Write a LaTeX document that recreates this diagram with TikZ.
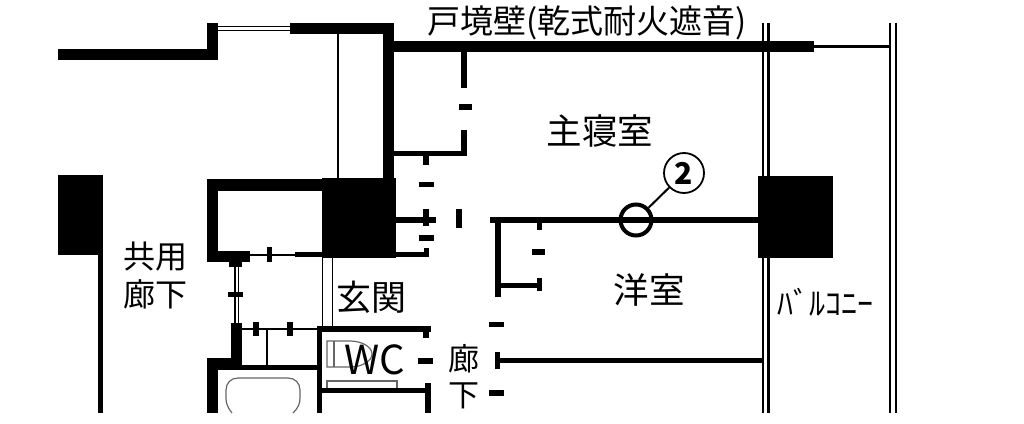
\documentclass[tikz,border=0pt]{standalone}
\usepackage{fontspec}
\setmainfont{Noto Sans CJK JP}
\tikzset{
	wall/.style={fill=black},
	thinline/.style={draw=black, line width=2.4pt},
	fixture/.style={draw=black!60, line width=1.2pt},
	roomlabel/.style={inner sep=0pt, align=center, font=\fontsize{31}{38}\selectfont},
}

\begin{document}
\begin{tikzpicture}[x=1pt, y=-1pt]
	\useasboundingbox (0, 0) rectangle (1024, 423);

	% Outer walls at the top
	\fill[wall] (58, 49) rectangle (218, 60);
	\fill[wall] (207, 23) rectangle (218, 60);
	\fill[wall] (290, 23) rectangle (394, 34);
	\fill[wall] (383, 23) rectangle (394, 180);
	\fill[wall] (394, 41) rectangle (814, 52); % Party wall

	% Window and thin lines
	\draw[black, line width=1.5pt] (218, 26.5) -- (290, 26.5);
	\draw[black, line width=1.5pt] (218, 30.5) -- (290, 30.5);
	\draw[black, line width=1.6pt] (338, 34) -- (338, 178);
	\draw[thinline, line width=2.8pt] (814, 46.5) -- (889, 46.5);

	% Corridor side
	\fill[wall] (58, 175) rectangle (103, 255);
	\fill[wall] (98, 255) rectangle (103, 413);

	% Shaft and entrance
	\fill[wall] (207, 179) rectangle (322, 191);
	\fill[wall] (322, 178) rectangle (396, 258);
	\fill[wall] (207, 179) rectangle (218, 262);
	\fill[wall] (207, 251) rectangle (250, 262);
	\fill[wall] (229, 255) rectangle (242, 267);
	\draw[thinline] (250, 255) -- (296, 255);
	\fill[wall] (267, 247) rectangle (272, 262);
	\fill[wall] (295, 252) rectangle (322, 257);
	\draw[thinline, line width=1.8pt] (322.5, 258) -- (322.5, 326);
	\draw[thinline, line width=1.8pt] (332.5, 258) -- (332.5, 326);
	\draw[thinline, line width=1.5pt] (235, 267) -- (235, 323);
	\draw[thinline, line width=1.5pt] (238.5, 267) -- (238.5, 323);
	\fill[wall] (228, 292) rectangle (243, 297);

	% Washroom
	\fill[wall] (231, 323) rectangle (242, 368);
	\draw[thinline] (242, 329) -- (318, 329);
	\fill[wall] (253, 322) rectangle (259, 336);
	\fill[wall] (287, 322) rectangle (293, 336);
	\draw[thinline] (267, 329) -- (267, 365);
	\fill[wall] (207, 358) rectangle (242, 370);
	\fill[wall] (207, 358) rectangle (218, 413);
	\fill[wall] (235, 365) rectangle (322, 370);
	\fill[wall] (317, 326) rectangle (322, 413);
	\fill[wall] (317, 326) rectangle (431, 332);
	\fill[wall] (423, 332) rectangle (429, 338);
	\fill[wall] (322, 388) rectangle (430, 393);
	\fill[wall] (425, 383) rectangle (431, 413);

	% Fixtures
	\draw[fixture] (232, 413) .. controls (228, 408) and (226, 404) .. (226, 398) -- (226, 390) .. controls (226, 383) and (231, 378) .. (238, 378) -- (288, 378) .. controls (295, 378) and (300, 383) .. (300, 390) -- (300, 398) .. controls (300, 404) and (298, 408) .. (293, 413);
	\draw[fixture] (327, 341) -- (350, 341) .. controls (362, 341) and (372, 347) .. (372, 354) .. controls (372, 361) and (362, 367) .. (350, 367) -- (327, 367) -- cycle;
	\draw[fixture] (334, 341) -- (334, 367);
	\draw[fixture] (327, 388) -- (327, 381) -- (397, 381) -- (397, 388);

	% Door marks around the corridor
	\fill[wall] (419, 182) rectangle (434, 187);
	\fill[wall] (396, 217) rectangle (436, 223);
	\fill[wall] (423, 209) rectangle (429, 226);
	\fill[wall] (419, 235) rectangle (434, 241);
	\fill[wall] (396, 252) rectangle (429, 257);
	\fill[wall] (424, 248) rectangle (429, 257);
	\fill[wall] (456, 209) rectangle (462, 228);
	\fill[wall] (418, 358) rectangle (433, 364);
	\fill[wall] (489, 322) rectangle (504, 327);
	\fill[wall] (489, 390) rectangle (504, 396);

	% Closet of the main bedroom
	\fill[wall] (461, 52) rectangle (467, 88);
	\fill[wall] (459, 104) rectangle (472, 110);
	\fill[wall] (461, 130) rectangle (467, 156);
	\fill[wall] (394, 151) rectangle (467, 156);
	\fill[wall] (423, 156) rectangle (429, 165);

	% Partition between the bedrooms
	\fill[wall] (490, 217) rectangle (760, 223);
	\fill[wall] (495, 217) rectangle (501, 297);
	\fill[wall] (495, 283) rectangle (541, 288);
	\fill[wall] (537, 223) rectangle (542, 230);
	\fill[wall] (532, 249) rectangle (545, 255);
	\fill[wall] (537, 278) rectangle (542, 291);
	\fill[wall] (495, 352) rectangle (500, 369);
	\fill[wall] (495, 358) rectangle (762, 363);

	% Balcony
	\draw[thinline] (763, 23) -- (763, 413);
	\draw[thinline] (768.5, 23) -- (768.5, 413);
	\draw[thinline] (890, 23) -- (890, 413);
	\draw[thinline] (896, 23) -- (896, 413);
	\fill[wall] (758, 176) rectangle (833, 258);

	% Callout
	\node[circle, draw=black, line width=4pt, minimum size=31pt, inner sep=0pt] (mark) at (636, 220) {};
	\node[circle, draw=black, line width=1.8pt, minimum size=40pt, inner sep=0pt, font=\fontsize{30}{30}\selectfont\bfseries] (callout) at (684, 173) {2};
	\draw[black, line width=2pt] (mark) -- (callout);

	% Labels
	\node[roomlabel, font=\fontsize{33}{38}\selectfont] (partywall) at (587, 22.5) {戸境壁(乾式耐火遮音)};
	\node[roomlabel, font=\fontsize{35.5}{38}\selectfont] (mainbedroom) at (600, 131) {主寝室};
	\node[roomlabel, font=\fontsize{35.5}{38}\selectfont] (bedroom) at (649, 290) {洋室};
	\node[roomlabel, font=\fontsize{35}{38}\selectfont] (entrance) at (371, 297) {玄関};
	\node[roomlabel, font=\fontsize{40}{40}\selectfont] (wc) at (375, 360) {WC};
	\node[roomlabel, font=\fontsize{31}{36}\selectfont] (corridor) at (464, 377) {廊\\下};
	\node[roomlabel, font=\fontsize{32}{38}\selectfont] (commoncorridor) at (155, 276) {共用\\廊下};
	\node[roomlabel, font=\fontsize{32}{38}\selectfont] (balcony) at (825, 302) {ﾊﾞﾙｺﾆｰ};
\end{tikzpicture}
\end{document}
